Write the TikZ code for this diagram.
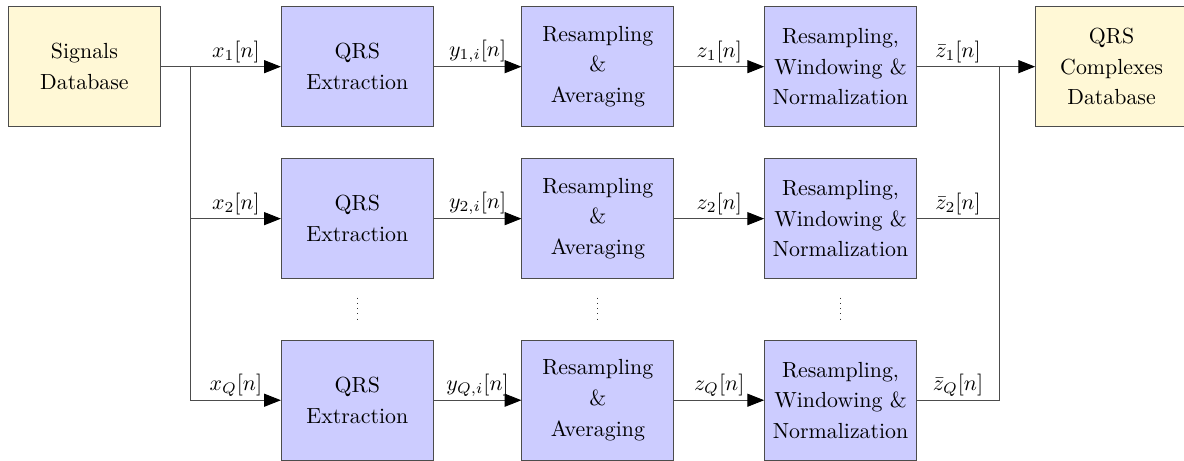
\documentclass[tikz,border=0pt]{standalone}
\usepackage{tikz}
\usetikzlibrary{positioning,arrows.meta}
\definecolor{dbfill}{RGB}{255,248,214}
\definecolor{blkfill}{RGB}{204,204,255}
\tikzset{
  box/.style={draw=black!70, fill=blkfill, minimum height=1.93cm, minimum width=2.444cm, align=center, inner sep=0pt, font=\fontsize{10}{14}\selectfont},
  dbbox/.style={box, fill=dbfill},
  lne/.style={draw=black!70},
  arr/.style={lne, -{Triangle[length=2.7mm, width=2.1mm, color=black]}},
  sig/.style={above, inner sep=1.5pt},
}

\begin{document}
\begin{tikzpicture}
  \useasboundingbox (0,0) rectangle (19.04,-7.413);
  % first row
  \node[dbbox, anchor=north west] (sdb) at (0.129,-0.1) {Signals\\Database};
  \node[box, right=1.93cm of sdb] (qrs1) {QRS\\Extraction};
  \node[box, right=1.41cm of qrs1] (ra1) {Resampling\\\&\\Averaging};
  \node[box, right=1.445cm of ra1] (rwn1) {Resampling,\\Windowing \&\\Normalization};
  \node[dbbox, right=1.9cm of rwn1] (cdb) {QRS\\Complexes\\Database};
  % second row
  \node[box, below=0.5cm of qrs1] (qrs2) {QRS\\Extraction};
  \node[box, below=0.5cm of ra1] (ra2) {Resampling\\\&\\Averaging};
  \node[box, below=0.5cm of rwn1] (rwn2) {Resampling,\\Windowing \&\\Normalization};
  % last row
  \node[box, below=0.976cm of qrs2] (qrs3) {QRS\\Extraction};
  \node[box, below=0.976cm of ra2] (ra3) {Resampling\\\&\\Averaging};
  \node[box, below=0.976cm of rwn2] (rwn3) {Resampling,\\Windowing \&\\Normalization};
  \coordinate[right=0.482cm of sdb.east] (split);
  \coordinate[right=1.32cm of rwn1.east] (merge);
  % inputs
  \draw[lne] (sdb) -- (split);
  \draw[arr] (split) -- node[sig] {$x_1[n]$} (qrs1);
  \draw[arr] (split) |- node[sig, pos=0.75] {$x_2[n]$} (qrs2);
  \draw[arr] (split) |- node[sig, pos=0.75] {$x_Q[n]$} (qrs3);
  % chains
  \draw[arr] (qrs1) -- node[sig] {$y_{1,i}[n]$} (ra1);
  \draw[arr] (qrs2) -- node[sig] {$y_{2,i}[n]$} (ra2);
  \draw[arr] (qrs3) -- node[sig] {$y_{Q,i}[n]$} (ra3);
  \draw[arr] (ra1) -- node[sig] {$z_1[n]$} (rwn1);
  \draw[arr] (ra2) -- node[sig] {$z_2[n]$} (rwn2);
  \draw[arr] (ra3) -- node[sig] {$z_Q[n]$} (rwn3);
  % outputs
  \draw[lne] (rwn1) -- node[sig] {$\bar{z}_1[n]$} (merge);
  \draw[lne] (rwn2) -| node[sig, pos=0.25] {$\bar{z}_2[n]$} (merge);
  \draw[lne] (rwn3) -| node[sig, pos=0.25] {$\bar{z}_Q[n]$} (merge);
  \draw[arr] (merge) -- (cdb);
  % dots
  \draw[dotted, black!80] ([yshift=-3mm]qrs2.south) -- ([yshift=2.8mm]qrs3.north);
  \draw[dotted, black!80] ([yshift=-3mm]ra2.south) -- ([yshift=2.8mm]ra3.north);
  \draw[dotted, black!80] ([yshift=-3mm]rwn2.south) -- ([yshift=2.8mm]rwn3.north);
\end{tikzpicture}
\end{document}
